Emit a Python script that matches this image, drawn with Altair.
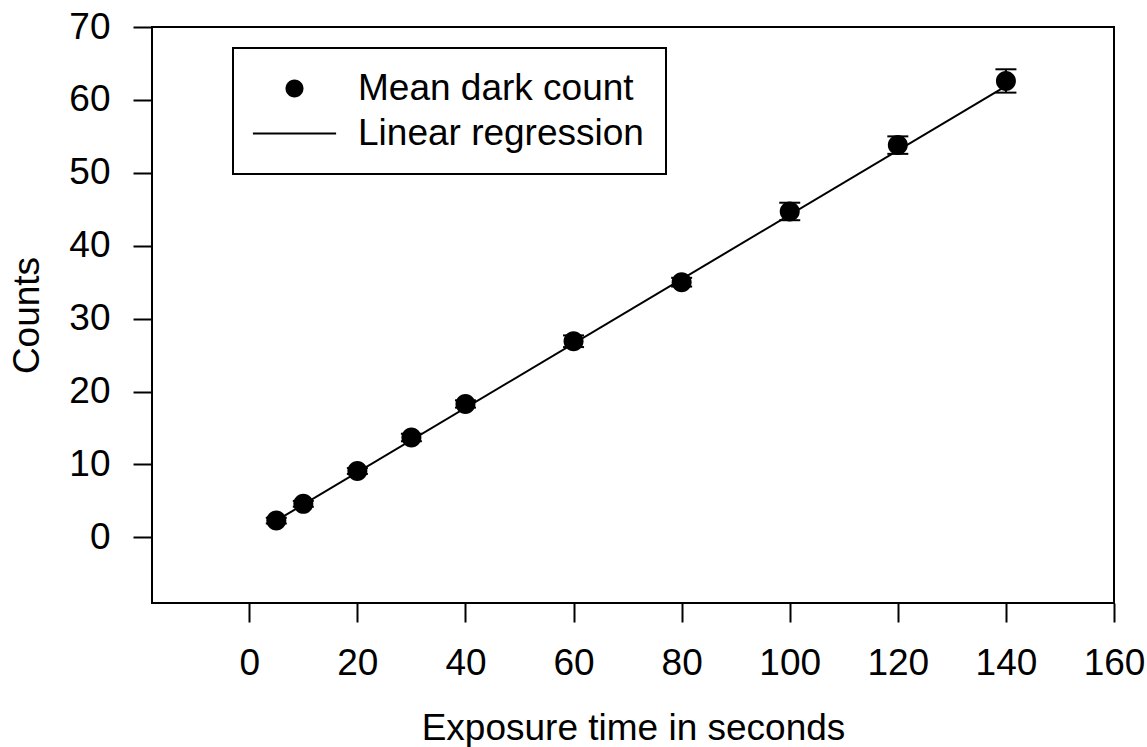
import altair as alt
import pandas as pd

# ---- data ----
exposure = [5, 10, 20, 30, 40, 60, 80, 100, 120, 140]
mean_counts = [2.3, 4.6, 9.1, 13.7, 18.3, 26.9, 35.0, 44.7, 53.8, 62.6]
errors = [0.4, 0.4, 0.4, 0.5, 0.5, 0.8, 0.6, 1.2, 1.2, 1.6]
reg_x = [5, 140]
reg_y = [2.3, 61.9]
series = ["Mean dark count", "Linear regression"]
x_ticks = [0, 20, 40, 60, 80, 100, 120, 140, 160]
y_ticks = [0, 10, 20, 30, 40, 50, 60, 70]

FONT = "Liberation Sans"

pts = pd.DataFrame({
    "x": exposure,
    "y": mean_counts,
    "lo": [m - e for m, e in zip(mean_counts, errors)],
    "hi": [m + e for m, e in zip(mean_counts, errors)],
    "series": [series[0]] * len(exposure),
})
reg = pd.DataFrame({"x": reg_x, "y": reg_y, "series": [series[1]] * len(reg_x)})

xs = alt.Scale(domain=[-18, 160], nice=False, zero=False)
ys = alt.Scale(domain=[-9, 70], nice=False, zero=False)

xaxis = alt.Axis(values=x_ticks, title="Exposure time in seconds", grid=False, domain=False,
                 tickSize=19, tickWidth=2, tickColor="black", labelFontSize=37, labelPadding=23,
                 labelColor="black", labelFont=FONT, titleFont=FONT, titleFontSize=37,
                 titleFontWeight="normal", titleColor="black", titlePadding=29, labelFlush=False)
yaxis = alt.Axis(values=y_ticks, title="Counts", grid=False, domain=False,
                 tickSize=19, tickWidth=2, tickColor="black", labelFontSize=37, labelPadding=23,
                 labelColor="black", labelFont=FONT, titleFont=FONT, titleFontSize=37,
                 titleFontWeight="normal", titleColor="black", titlePadding=22)

circle_path = "M-1.125,0A1.125,1.125,0,1,1,1.125,0A1.125,1.125,0,1,1,-1.125,0Z"
line_path = "M-5.2,-0.125L5.2,-0.125L5.2,0.125L-5.2,0.125Z"

shape_scale = alt.Scale(domain=series, range=[circle_path, line_path])
legend = alt.Legend(orient="none", legendX=81, legendY=21, title=None, strokeColor="black",
                    padding=22, symbolSize=256, symbolFillColor="black", symbolStrokeWidth=0,
                    symbolOffset=21, labelOffset=45, labelFontSize=37, labelFont=FONT,
                    labelColor="black", labelLimit=600, rowPadding=7)

line = alt.Chart(reg).mark_line(color="black", strokeWidth=2).encode(
    x=alt.X("x:Q", scale=xs, axis=xaxis),
    y=alt.Y("y:Q", scale=ys, axis=yaxis),
)

rules = alt.Chart(pts).mark_rule(color="black", strokeWidth=2).encode(
    x=alt.X("x:Q", scale=xs), y=alt.Y("lo:Q", scale=ys), y2="hi:Q")
cap_lo = alt.Chart(pts).mark_tick(color="black", orient="horizontal", size=21, thickness=2, opacity=1).encode(
    x=alt.X("x:Q", scale=xs), y=alt.Y("lo:Q", scale=ys))
cap_hi = alt.Chart(pts).mark_tick(color="black", orient="horizontal", size=21, thickness=2, opacity=1).encode(
    x=alt.X("x:Q", scale=xs), y=alt.Y("hi:Q", scale=ys))

points = alt.Chart(pts).mark_point(filled=True, color="black", opacity=1, size=316).encode(
    x=alt.X("x:Q", scale=xs),
    y=alt.Y("y:Q", scale=ys),
    shape=alt.Shape("series:N", scale=shape_scale, legend=legend),
)

chart = alt.layer(line, rules, cap_lo, cap_hi, points).properties(
    width=962, height=576,
    autosize=alt.AutoSizeParams(type="none"),
    padding={"left": 152, "top": 27, "right": 33, "bottom": 144},
    background="white",
).configure_view(stroke="black", strokeWidth=2).configure_legend(strokeWidth=2)

chart.save("out.html", embed_options={"renderer": "svg", "actions": False})
